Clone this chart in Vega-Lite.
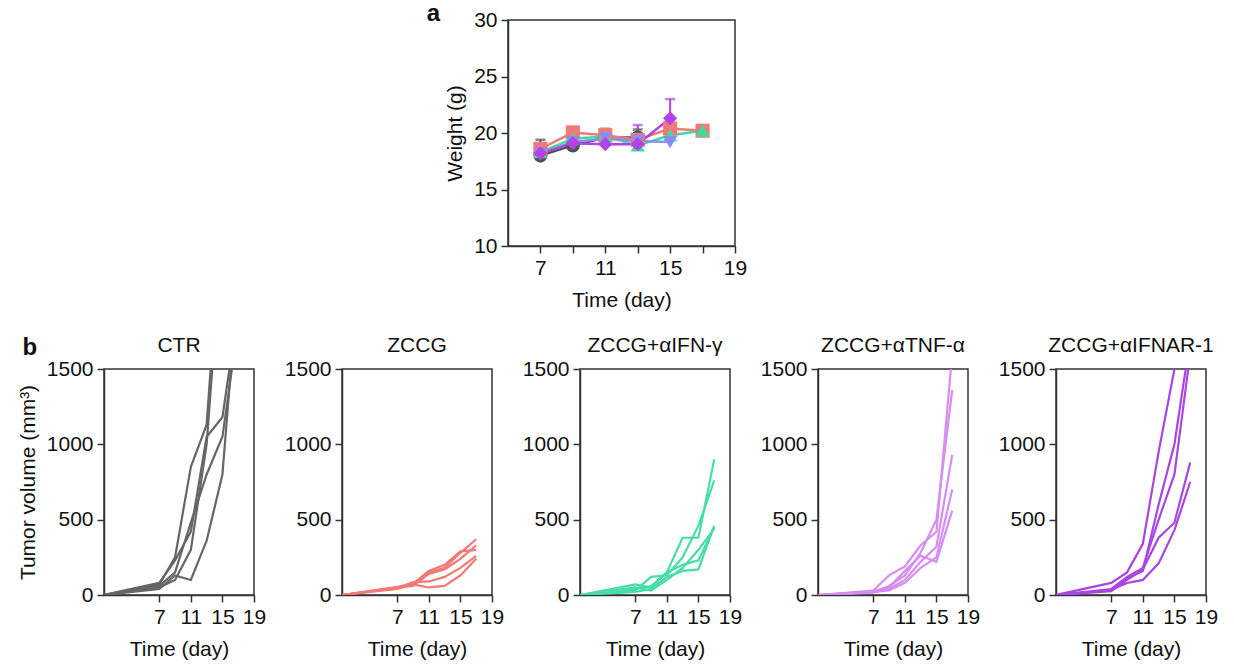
{
  "$schema": "https://vega.github.io/schema/vega-lite/v6.json",
  "background": "white",
  "padding": {"left": 16, "top": 1, "right": 5, "bottom": 5},
  "config": {
    "font": "Liberation Sans",
    "view": {"stroke": "#333333", "strokeWidth": 1.5},
    "axis": {"grid": false, "domainColor": "#333333", "domainWidth": 1.5, "tickColor": "#333333", "tickWidth": 1.5, "tickSize": 7, "labelFont": "Liberation Sans", "labelFontSize": 21, "labelColor": "#111111", "labelPadding": 4, "labelOverlap": false, "labelFlush": false, "titleFont": "Liberation Sans", "titleFontSize": 21, "titleFontWeight": "normal", "titleColor": "#111111", "titlePadding": 8},
    "axisX": {"titlePadding": 11},
    "title": {"font": "Liberation Sans", "fontSize": 21, "fontWeight": "normal", "color": "#111111"}
  },
  "datasets": {
    "weight": [
      {"group": "CTR", "day": 7, "w": 18.0, "upper": 19.4},
      {"group": "CTR", "day": 9, "w": 18.9},
      {"group": "CTR", "day": 11, "w": 19.6, "upper": 20.3},
      {"group": "CTR", "day": 13, "w": 19.6, "upper": 20.3},
      {"group": "ZCCG", "day": 7, "w": 18.6},
      {"group": "ZCCG", "day": 9, "w": 20.05},
      {"group": "ZCCG", "day": 11, "w": 19.8, "upper": 20.4},
      {"group": "ZCCG", "day": 13, "w": 19.4},
      {"group": "ZCCG", "day": 15, "w": 20.4},
      {"group": "ZCCG", "day": 17, "w": 20.2},
      {"group": "ZCCG+αIFN-γ", "day": 7, "w": 18.3},
      {"group": "ZCCG+αIFN-γ", "day": 9, "w": 19.5},
      {"group": "ZCCG+αIFN-γ", "day": 11, "w": 19.7},
      {"group": "ZCCG+αIFN-γ", "day": 13, "w": 18.9},
      {"group": "ZCCG+αIFN-γ", "day": 15, "w": 19.8},
      {"group": "ZCCG+αIFN-γ", "day": 17, "w": 20.2},
      {"group": "ZCCG+αTNF-α", "day": 7, "w": 18.2},
      {"group": "ZCCG+αTNF-α", "day": 9, "w": 19.2},
      {"group": "ZCCG+αTNF-α", "day": 11, "w": 19.5},
      {"group": "ZCCG+αTNF-α", "day": 13, "w": 19.3},
      {"group": "ZCCG+αTNF-α", "day": 15, "w": 19.2},
      {"group": "ZCCG+αIFNAR-1", "day": 7, "w": 18.2},
      {"group": "ZCCG+αIFNAR-1", "day": 9, "w": 19.1},
      {"group": "ZCCG+αIFNAR-1", "day": 11, "w": 19.0},
      {"group": "ZCCG+αIFNAR-1", "day": 13, "w": 19.0, "upper": 20.7},
      {"group": "ZCCG+αIFNAR-1", "day": 15, "w": 21.3, "upper": 23.0}
    ],
    "tumor": [
      {"group": "CTR", "mouse": "c1", "day": 0, "vol": 0}, {"group": "CTR", "mouse": "c1", "day": 7, "vol": 70}, {"group": "CTR", "mouse": "c1", "day": 9, "vol": 250}, {"group": "CTR", "mouse": "c1", "day": 11, "vol": 850}, {"group": "CTR", "mouse": "c1", "day": 13, "vol": 1130}, {"group": "CTR", "mouse": "c1", "day": 15, "vol": 2600},
      {"group": "CTR", "mouse": "c2", "day": 0, "vol": 0}, {"group": "CTR", "mouse": "c2", "day": 7, "vol": 80}, {"group": "CTR", "mouse": "c2", "day": 9, "vol": 230}, {"group": "CTR", "mouse": "c2", "day": 11, "vol": 420}, {"group": "CTR", "mouse": "c2", "day": 13, "vol": 1050}, {"group": "CTR", "mouse": "c2", "day": 15, "vol": 1180}, {"group": "CTR", "mouse": "c2", "day": 17, "vol": 1900},
      {"group": "CTR", "mouse": "c3", "day": 0, "vol": 0}, {"group": "CTR", "mouse": "c3", "day": 7, "vol": 40}, {"group": "CTR", "mouse": "c3", "day": 9, "vol": 130}, {"group": "CTR", "mouse": "c3", "day": 11, "vol": 100}, {"group": "CTR", "mouse": "c3", "day": 13, "vol": 360}, {"group": "CTR", "mouse": "c3", "day": 15, "vol": 800}, {"group": "CTR", "mouse": "c3", "day": 17, "vol": 2100},
      {"group": "CTR", "mouse": "c4", "day": 0, "vol": 0}, {"group": "CTR", "mouse": "c4", "day": 7, "vol": 60}, {"group": "CTR", "mouse": "c4", "day": 9, "vol": 150}, {"group": "CTR", "mouse": "c4", "day": 11, "vol": 480}, {"group": "CTR", "mouse": "c4", "day": 13, "vol": 800}, {"group": "CTR", "mouse": "c4", "day": 15, "vol": 1050}, {"group": "CTR", "mouse": "c4", "day": 17, "vol": 1800},
      {"group": "CTR", "mouse": "c5", "day": 0, "vol": 0}, {"group": "CTR", "mouse": "c5", "day": 7, "vol": 50}, {"group": "CTR", "mouse": "c5", "day": 9, "vol": 100}, {"group": "CTR", "mouse": "c5", "day": 11, "vol": 300}, {"group": "CTR", "mouse": "c5", "day": 13, "vol": 1000}, {"group": "CTR", "mouse": "c5", "day": 15, "vol": 2400},

      {"group": "ZCCG", "mouse": "z1", "day": 0, "vol": 0}, {"group": "ZCCG", "mouse": "z1", "day": 7, "vol": 50}, {"group": "ZCCG", "mouse": "z1", "day": 9, "vol": 70}, {"group": "ZCCG", "mouse": "z1", "day": 11, "vol": 150}, {"group": "ZCCG", "mouse": "z1", "day": 13, "vol": 180}, {"group": "ZCCG", "mouse": "z1", "day": 15, "vol": 280}, {"group": "ZCCG", "mouse": "z1", "day": 17, "vol": 370},
      {"group": "ZCCG", "mouse": "z2", "day": 0, "vol": 0}, {"group": "ZCCG", "mouse": "z2", "day": 7, "vol": 55}, {"group": "ZCCG", "mouse": "z2", "day": 9, "vol": 75}, {"group": "ZCCG", "mouse": "z2", "day": 11, "vol": 160}, {"group": "ZCCG", "mouse": "z2", "day": 13, "vol": 200}, {"group": "ZCCG", "mouse": "z2", "day": 15, "vol": 290}, {"group": "ZCCG", "mouse": "z2", "day": 17, "vol": 300},
      {"group": "ZCCG", "mouse": "z3", "day": 0, "vol": 0}, {"group": "ZCCG", "mouse": "z3", "day": 7, "vol": 45}, {"group": "ZCCG", "mouse": "z3", "day": 9, "vol": 85}, {"group": "ZCCG", "mouse": "z3", "day": 11, "vol": 90}, {"group": "ZCCG", "mouse": "z3", "day": 13, "vol": 120}, {"group": "ZCCG", "mouse": "z3", "day": 15, "vol": 180}, {"group": "ZCCG", "mouse": "z3", "day": 17, "vol": 260},
      {"group": "ZCCG", "mouse": "z4", "day": 0, "vol": 0}, {"group": "ZCCG", "mouse": "z4", "day": 7, "vol": 40}, {"group": "ZCCG", "mouse": "z4", "day": 9, "vol": 70}, {"group": "ZCCG", "mouse": "z4", "day": 11, "vol": 50}, {"group": "ZCCG", "mouse": "z4", "day": 13, "vol": 60}, {"group": "ZCCG", "mouse": "z4", "day": 15, "vol": 130}, {"group": "ZCCG", "mouse": "z4", "day": 17, "vol": 240},
      {"group": "ZCCG", "mouse": "z5", "day": 0, "vol": 0}, {"group": "ZCCG", "mouse": "z5", "day": 7, "vol": 50}, {"group": "ZCCG", "mouse": "z5", "day": 9, "vol": 60}, {"group": "ZCCG", "mouse": "z5", "day": 11, "vol": 140}, {"group": "ZCCG", "mouse": "z5", "day": 13, "vol": 170}, {"group": "ZCCG", "mouse": "z5", "day": 15, "vol": 240}, {"group": "ZCCG", "mouse": "z5", "day": 17, "vol": 330},

      {"group": "ZCCG+αIFN-γ", "mouse": "g1", "day": 0, "vol": 0}, {"group": "ZCCG+αIFN-γ", "mouse": "g1", "day": 7, "vol": 70}, {"group": "ZCCG+αIFN-γ", "mouse": "g1", "day": 9, "vol": 50}, {"group": "ZCCG+αIFN-γ", "mouse": "g1", "day": 11, "vol": 150}, {"group": "ZCCG+αIFN-γ", "mouse": "g1", "day": 13, "vol": 380}, {"group": "ZCCG+αIFN-γ", "mouse": "g1", "day": 15, "vol": 380}, {"group": "ZCCG+αIFN-γ", "mouse": "g1", "day": 17, "vol": 900},
      {"group": "ZCCG+αIFN-γ", "mouse": "g2", "day": 0, "vol": 0}, {"group": "ZCCG+αIFN-γ", "mouse": "g2", "day": 7, "vol": 30}, {"group": "ZCCG+αIFN-γ", "mouse": "g2", "day": 9, "vol": 120}, {"group": "ZCCG+αIFN-γ", "mouse": "g2", "day": 11, "vol": 130}, {"group": "ZCCG+αIFN-γ", "mouse": "g2", "day": 13, "vol": 250}, {"group": "ZCCG+αIFN-γ", "mouse": "g2", "day": 15, "vol": 460}, {"group": "ZCCG+αIFN-γ", "mouse": "g2", "day": 17, "vol": 760},
      {"group": "ZCCG+αIFN-γ", "mouse": "g3", "day": 0, "vol": 0}, {"group": "ZCCG+αIFN-γ", "mouse": "g3", "day": 7, "vol": 20}, {"group": "ZCCG+αIFN-γ", "mouse": "g3", "day": 9, "vol": 40}, {"group": "ZCCG+αIFN-γ", "mouse": "g3", "day": 11, "vol": 120}, {"group": "ZCCG+αIFN-γ", "mouse": "g3", "day": 13, "vol": 160}, {"group": "ZCCG+αIFN-γ", "mouse": "g3", "day": 15, "vol": 170}, {"group": "ZCCG+αIFN-γ", "mouse": "g3", "day": 17, "vol": 460},
      {"group": "ZCCG+αIFN-γ", "mouse": "g4", "day": 0, "vol": 0}, {"group": "ZCCG+αIFN-γ", "mouse": "g4", "day": 7, "vol": 40}, {"group": "ZCCG+αIFN-γ", "mouse": "g4", "day": 9, "vol": 60}, {"group": "ZCCG+αIFN-γ", "mouse": "g4", "day": 11, "vol": 150}, {"group": "ZCCG+αIFN-γ", "mouse": "g4", "day": 13, "vol": 200}, {"group": "ZCCG+αIFN-γ", "mouse": "g4", "day": 15, "vol": 230}, {"group": "ZCCG+αIFN-γ", "mouse": "g4", "day": 17, "vol": 450},
      {"group": "ZCCG+αIFN-γ", "mouse": "g5", "day": 0, "vol": 0}, {"group": "ZCCG+αIFN-γ", "mouse": "g5", "day": 7, "vol": 50}, {"group": "ZCCG+αIFN-γ", "mouse": "g5", "day": 9, "vol": 30}, {"group": "ZCCG+αIFN-γ", "mouse": "g5", "day": 11, "vol": 100}, {"group": "ZCCG+αIFN-γ", "mouse": "g5", "day": 13, "vol": 180}, {"group": "ZCCG+αIFN-γ", "mouse": "g5", "day": 15, "vol": 300}, {"group": "ZCCG+αIFN-γ", "mouse": "g5", "day": 17, "vol": 440},

      {"group": "ZCCG+αTNF-α", "mouse": "t1", "day": 0, "vol": 0}, {"group": "ZCCG+αTNF-α", "mouse": "t1", "day": 7, "vol": 30}, {"group": "ZCCG+αTNF-α", "mouse": "t1", "day": 9, "vol": 130}, {"group": "ZCCG+αTNF-α", "mouse": "t1", "day": 11, "vol": 190}, {"group": "ZCCG+αTNF-α", "mouse": "t1", "day": 13, "vol": 330}, {"group": "ZCCG+αTNF-α", "mouse": "t1", "day": 15, "vol": 420}, {"group": "ZCCG+αTNF-α", "mouse": "t1", "day": 17, "vol": 1600},
      {"group": "ZCCG+αTNF-α", "mouse": "t2", "day": 0, "vol": 0}, {"group": "ZCCG+αTNF-α", "mouse": "t2", "day": 7, "vol": 20}, {"group": "ZCCG+αTNF-α", "mouse": "t2", "day": 9, "vol": 60}, {"group": "ZCCG+αTNF-α", "mouse": "t2", "day": 11, "vol": 130}, {"group": "ZCCG+αTNF-α", "mouse": "t2", "day": 13, "vol": 280}, {"group": "ZCCG+αTNF-α", "mouse": "t2", "day": 15, "vol": 500}, {"group": "ZCCG+αTNF-α", "mouse": "t2", "day": 17, "vol": 1360},
      {"group": "ZCCG+αTNF-α", "mouse": "t3", "day": 0, "vol": 0}, {"group": "ZCCG+αTNF-α", "mouse": "t3", "day": 7, "vol": 15}, {"group": "ZCCG+αTNF-α", "mouse": "t3", "day": 9, "vol": 40}, {"group": "ZCCG+αTNF-α", "mouse": "t3", "day": 11, "vol": 100}, {"group": "ZCCG+αTNF-α", "mouse": "t3", "day": 13, "vol": 220}, {"group": "ZCCG+αTNF-α", "mouse": "t3", "day": 15, "vol": 320}, {"group": "ZCCG+αTNF-α", "mouse": "t3", "day": 17, "vol": 930},
      {"group": "ZCCG+αTNF-α", "mouse": "t4", "day": 0, "vol": 0}, {"group": "ZCCG+αTNF-α", "mouse": "t4", "day": 7, "vol": 20}, {"group": "ZCCG+αTNF-α", "mouse": "t4", "day": 9, "vol": 30}, {"group": "ZCCG+αTNF-α", "mouse": "t4", "day": 11, "vol": 80}, {"group": "ZCCG+αTNF-α", "mouse": "t4", "day": 13, "vol": 180}, {"group": "ZCCG+αTNF-α", "mouse": "t4", "day": 15, "vol": 250}, {"group": "ZCCG+αTNF-α", "mouse": "t4", "day": 17, "vol": 700},
      {"group": "ZCCG+αTNF-α", "mouse": "t5", "day": 0, "vol": 0}, {"group": "ZCCG+αTNF-α", "mouse": "t5", "day": 7, "vol": 25}, {"group": "ZCCG+αTNF-α", "mouse": "t5", "day": 9, "vol": 50}, {"group": "ZCCG+αTNF-α", "mouse": "t5", "day": 11, "vol": 160}, {"group": "ZCCG+αTNF-α", "mouse": "t5", "day": 13, "vol": 260}, {"group": "ZCCG+αTNF-α", "mouse": "t5", "day": 15, "vol": 220}, {"group": "ZCCG+αTNF-α", "mouse": "t5", "day": 17, "vol": 560},

      {"group": "ZCCG+αIFNAR-1", "mouse": "r1", "day": 0, "vol": 0}, {"group": "ZCCG+αIFNAR-1", "mouse": "r1", "day": 7, "vol": 80}, {"group": "ZCCG+αIFNAR-1", "mouse": "r1", "day": 9, "vol": 150}, {"group": "ZCCG+αIFNAR-1", "mouse": "r1", "day": 11, "vol": 340}, {"group": "ZCCG+αIFNAR-1", "mouse": "r1", "day": 13, "vol": 950}, {"group": "ZCCG+αIFNAR-1", "mouse": "r1", "day": 15, "vol": 1500},
      {"group": "ZCCG+αIFNAR-1", "mouse": "r2", "day": 0, "vol": 0}, {"group": "ZCCG+αIFNAR-1", "mouse": "r2", "day": 7, "vol": 40}, {"group": "ZCCG+αIFNAR-1", "mouse": "r2", "day": 9, "vol": 120}, {"group": "ZCCG+αIFNAR-1", "mouse": "r2", "day": 11, "vol": 180}, {"group": "ZCCG+αIFNAR-1", "mouse": "r2", "day": 13, "vol": 500}, {"group": "ZCCG+αIFNAR-1", "mouse": "r2", "day": 15, "vol": 800}, {"group": "ZCCG+αIFNAR-1", "mouse": "r2", "day": 17, "vol": 1600},
      {"group": "ZCCG+αIFNAR-1", "mouse": "r3", "day": 0, "vol": 0}, {"group": "ZCCG+αIFNAR-1", "mouse": "r3", "day": 7, "vol": 30}, {"group": "ZCCG+αIFNAR-1", "mouse": "r3", "day": 9, "vol": 110}, {"group": "ZCCG+αIFNAR-1", "mouse": "r3", "day": 11, "vol": 160}, {"group": "ZCCG+αIFNAR-1", "mouse": "r3", "day": 13, "vol": 600}, {"group": "ZCCG+αIFNAR-1", "mouse": "r3", "day": 15, "vol": 1000}, {"group": "ZCCG+αIFNAR-1", "mouse": "r3", "day": 17, "vol": 1700},
      {"group": "ZCCG+αIFNAR-1", "mouse": "r4", "day": 0, "vol": 0}, {"group": "ZCCG+αIFNAR-1", "mouse": "r4", "day": 7, "vol": 25}, {"group": "ZCCG+αIFNAR-1", "mouse": "r4", "day": 9, "vol": 100}, {"group": "ZCCG+αIFNAR-1", "mouse": "r4", "day": 11, "vol": 170}, {"group": "ZCCG+αIFNAR-1", "mouse": "r4", "day": 13, "vol": 380}, {"group": "ZCCG+αIFNAR-1", "mouse": "r4", "day": 15, "vol": 480}, {"group": "ZCCG+αIFNAR-1", "mouse": "r4", "day": 17, "vol": 880},
      {"group": "ZCCG+αIFNAR-1", "mouse": "r5", "day": 0, "vol": 0}, {"group": "ZCCG+αIFNAR-1", "mouse": "r5", "day": 7, "vol": 35}, {"group": "ZCCG+αIFNAR-1", "mouse": "r5", "day": 9, "vol": 80}, {"group": "ZCCG+αIFNAR-1", "mouse": "r5", "day": 11, "vol": 100}, {"group": "ZCCG+αIFNAR-1", "mouse": "r5", "day": 13, "vol": 210}, {"group": "ZCCG+αIFNAR-1", "mouse": "r5", "day": 15, "vol": 430}, {"group": "ZCCG+αIFNAR-1", "mouse": "r5", "day": 17, "vol": 750}
    ]
  },
  "spacing": 23,
  "vconcat": [
    {
      "spacing": 0,
      "hconcat": [
        {"width": 321, "height": 10, "data": {"values": []}, "mark": "point", "view": {"stroke": null}},
        {
          "width": 227, "height": 226,
          "title": {"text": "a", "anchor": "start", "frame": "bounds", "fontSize": 24, "fontWeight": "bold", "dx": -18, "dy": 17, "offset": 0},
          "data": {"name": "weight"},
          "encoding": {
            "x": {"field": "day", "type": "quantitative", "scale": {"domain": [5, 19], "nice": false, "zero": false}, "axis": {"values": [7, 9, 11, 13, 15, 17, 19], "labelExpr": "datum.value % 4 == 3 ? datum.label : ''", "title": "Time (day)"}},
            "y": {"field": "w", "type": "quantitative", "scale": {"domain": [10, 30], "nice": false, "zero": false}, "axis": {"values": [10, 15, 20, 25, 30], "title": "Weight (g)"}},
            "color": {"field": "group", "type": "nominal", "scale": {"domain": ["CTR", "ZCCG", "ZCCG+αIFN-γ", "ZCCG+αTNF-α", "ZCCG+αIFNAR-1"], "range": ["#505050", "#f27a76", "#3fdca2", "#8a8cf2", "#b044e6"]}, "legend": null}
          },
          "layer": [
            {"transform": [{"filter": "isValid(datum.upper)"}], "mark": {"type": "rule", "strokeWidth": 2}, "encoding": {"y2": {"field": "upper"}}},
            {"transform": [{"filter": "isValid(datum.upper)"}], "mark": {"type": "tick", "orient": "horizontal", "size": 10, "thickness": 2.5}, "encoding": {"y": {"field": "upper", "type": "quantitative"}}},
            {"mark": {"type": "line", "strokeWidth": 2.5}, "encoding": {"order": {"field": "day"}}},
            {"mark": {"type": "point", "filled": true, "size": 200, "opacity": 1}, "encoding": {"shape": {"field": "group", "type": "nominal", "scale": {"domain": ["CTR", "ZCCG", "ZCCG+αIFN-γ", "ZCCG+αTNF-α", "ZCCG+αIFNAR-1"], "range": ["circle", "square", "triangle-up", "triangle-down", "diamond"]}, "legend": null}}}
          ]
        }
      ]
    },
    {
      "bounds": "flush",
      "spacing": 88,
      "title": {"text": "b", "anchor": "start", "frame": "bounds", "fontSize": 24, "fontWeight": "bold", "dx": 6, "dy": 26, "offset": 0},
      "hconcat": [
        {
          "width": 150, "height": 226,
          "title": {"text": "CTR", "offset": 2},
          "data": {"name": "tumor"},
          "transform": [{"filter": "datum.group === 'CTR'"}],
          "mark": {"type": "line", "clip": true, "strokeWidth": 2.2, "color": "#666666"},
          "encoding": {
            "x": {"field": "day", "type": "quantitative", "scale": {"domain": [0, 19], "nice": false}, "axis": {"values": [7, 11, 15, 19], "title": "Time (day)"}},
            "y": {"field": "vol", "type": "quantitative", "scale": {"domain": [0, 1500], "nice": false}, "axis": {"values": [0, 500, 1000, 1500], "format": "d", "title": "Tumor volume (mm³)"}},
            "detail": {"field": "mouse"},
            "order": {"field": "day"}
          }
        },
        {
          "width": 150, "height": 226,
          "title": {"text": "ZCCG", "offset": 2},
          "data": {"name": "tumor"},
          "transform": [{"filter": "datum.group === 'ZCCG'"}],
          "mark": {"type": "line", "clip": true, "strokeWidth": 2.2, "color": "#f27a76"},
          "encoding": {
            "x": {"field": "day", "type": "quantitative", "scale": {"domain": [0, 19], "nice": false}, "axis": {"values": [7, 11, 15, 19], "title": "Time (day)"}},
            "y": {"field": "vol", "type": "quantitative", "scale": {"domain": [0, 1500], "nice": false}, "axis": {"values": [0, 500, 1000, 1500], "format": "d", "title": null}},
            "detail": {"field": "mouse"},
            "order": {"field": "day"}
          }
        },
        {
          "width": 150, "height": 226,
          "title": {"text": "ZCCG+αIFN-γ", "offset": 2},
          "data": {"name": "tumor"},
          "transform": [{"filter": "datum.group === 'ZCCG+αIFN-γ'"}],
          "mark": {"type": "line", "clip": true, "strokeWidth": 2.2, "color": "#45dea6"},
          "encoding": {
            "x": {"field": "day", "type": "quantitative", "scale": {"domain": [0, 19], "nice": false}, "axis": {"values": [7, 11, 15, 19], "title": "Time (day)"}},
            "y": {"field": "vol", "type": "quantitative", "scale": {"domain": [0, 1500], "nice": false}, "axis": {"values": [0, 500, 1000, 1500], "format": "d", "title": null}},
            "detail": {"field": "mouse"},
            "order": {"field": "day"}
          }
        },
        {
          "width": 150, "height": 226,
          "title": {"text": "ZCCG+αTNF-α", "offset": 2},
          "data": {"name": "tumor"},
          "transform": [{"filter": "datum.group === 'ZCCG+αTNF-α'"}],
          "mark": {"type": "line", "clip": true, "strokeWidth": 2.2, "color": "#d88cf2"},
          "encoding": {
            "x": {"field": "day", "type": "quantitative", "scale": {"domain": [0, 19], "nice": false}, "axis": {"values": [7, 11, 15, 19], "title": "Time (day)"}},
            "y": {"field": "vol", "type": "quantitative", "scale": {"domain": [0, 1500], "nice": false}, "axis": {"values": [0, 500, 1000, 1500], "format": "d", "title": null}},
            "detail": {"field": "mouse"},
            "order": {"field": "day"}
          }
        },
        {
          "width": 150, "height": 226,
          "title": {"text": "ZCCG+αIFNAR-1", "offset": 2},
          "data": {"name": "tumor"},
          "transform": [{"filter": "datum.group === 'ZCCG+αIFNAR-1'"}],
          "mark": {"type": "line", "clip": true, "strokeWidth": 2.2, "color": "#a846e2"},
          "encoding": {
            "x": {"field": "day", "type": "quantitative", "scale": {"domain": [0, 19], "nice": false}, "axis": {"values": [7, 11, 15, 19], "title": "Time (day)"}},
            "y": {"field": "vol", "type": "quantitative", "scale": {"domain": [0, 1500], "nice": false}, "axis": {"values": [0, 500, 1000, 1500], "format": "d", "title": null}},
            "detail": {"field": "mouse"},
            "order": {"field": "day"}
          }
        }
      ]
    }
  ]
}
